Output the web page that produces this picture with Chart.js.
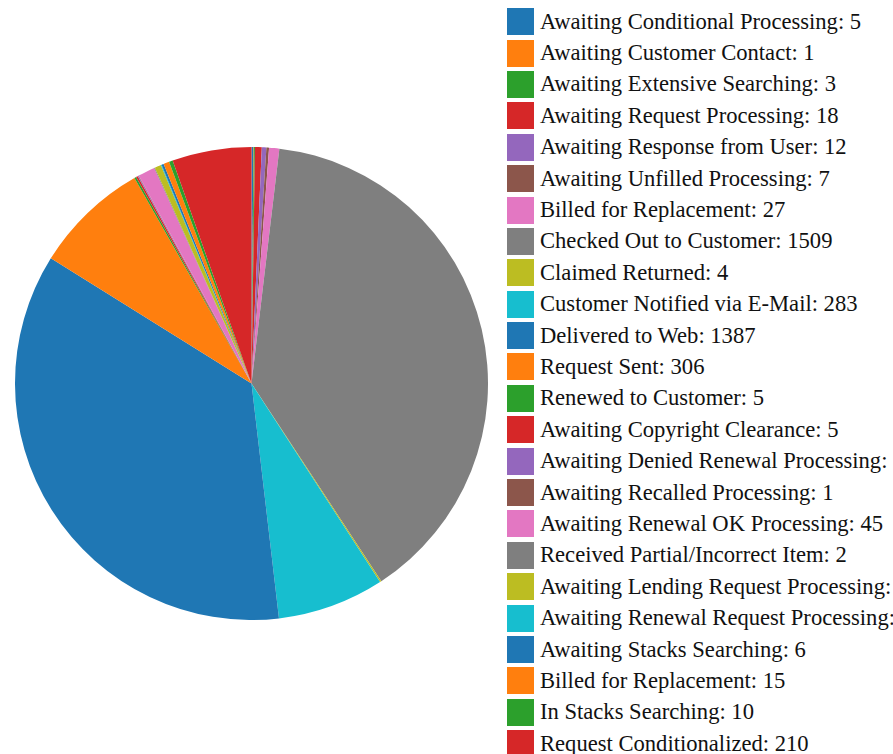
<!DOCTYPE html>
<html>
<head>
<meta charset="utf-8">
<script src="https://cdn.jsdelivr.net/npm/chart.js@4"></script>
<style>
  html, body { margin: 0; padding: 0; background: #fff; width: 893px; height: 754px; overflow: hidden; }
  #pieBox { position: absolute; left: 15px; top: 147px; width: 473px; height: 473px; }
  #legend { position: absolute; left: 507px; top: 6px; width: 386px; overflow: hidden; white-space: nowrap; color: #111; }
  .row { height: 31.4px; display: flex; align-items: center; }
  .sw { width: 27px; height: 27px; margin-right: 6px; flex: none; }
</style>
</head>
<body>
<div id="pieBox"><canvas id="pie"></canvas></div>
<div id="legend"></div>
<script>
/* ================= DATA ================= */
const statuses = [
"Awaiting Conditional Processing","Awaiting Customer Contact","Awaiting Extensive Searching",
"Awaiting Request Processing","Awaiting Response from User","Awaiting Unfilled Processing",
"Billed for Replacement","Checked Out to Customer","Claimed Returned",
"Customer Notified via E-Mail","Delivered to Web","Request Sent","Renewed to Customer",
"Awaiting Copyright Clearance","Awaiting Denied Renewal Processing","Awaiting Recalled Processing",
"Awaiting Renewal OK Processing","Received Partial/Incorrect Item","Awaiting Lending Request Processing",
"Awaiting Renewal Request Processing","Awaiting Stacks Searching","Billed for Replacement",
"In Stacks Searching","Request Conditionalized"
];

const counts = [5,1,3,18,12,7,27,1509,4,283,1387,306,5,5,2,1,45,2,17,2,6,15,10,210];

// d3 category10
const palette = ["#1f77b4","#ff7f0e","#2ca02c","#d62728","#9467bd","#8c564b","#e377c2","#7f7f7f","#bcbd22","#17becf"];

const legendFonts = ["Liberation Serif", "Tinos", "Times New Roman"];

/* ================= PIE ================= */
const colors = counts.map((v, i) => palette[i % palette.length]);

const chart = new Chart(document.getElementById("pie"), {
  type: "pie",
  data: {
    labels: statuses,
    datasets: [{
      data: counts,
      backgroundColor: colors,
      borderWidth: 0
    }]
  },
  options: {
    responsive: true,
    maintainAspectRatio: false,
    animation: false,
    layout: { padding: 0 },
    plugins: {
      legend: { display: false },
      tooltip: { enabled: false }
    }
  }
});

/* ================= LEGEND ================= */
const fam = legendFonts.map(f => `'${f}'`).join(",") + ",serif";
const legend = document.getElementById("legend");
chart.data.labels.forEach((name, i) => {
  legend.innerHTML += `<div class="row" style="font-family:${fam};font-size:22.6px"><span class="sw" style="background:${colors[i]}"></span><span style="font-family:${fam}">${name}: ${counts[i]}</span></div>`;
});
</script>
</body>
</html>
